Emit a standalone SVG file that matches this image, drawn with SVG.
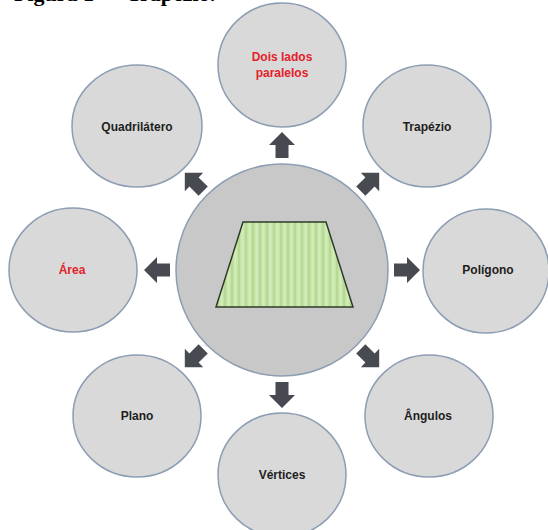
<svg xmlns="http://www.w3.org/2000/svg" width="548" height="530" viewBox="0 0 548 530">
<defs>
<style>
.node{fill:#d9d9d9;stroke:#8d9db3;stroke-width:1.5}
.hub{fill:#c8c8c8;stroke:#8d9db3;stroke-width:1.5}
.lbl{font-family:"Liberation Sans",Arial,sans-serif;font-weight:bold;font-size:12px;fill:#1e1e1e;text-anchor:middle}
.red{fill:#e3222a}
.arr{fill:#474b51}
.title{font-family:"Liberation Serif","Times New Roman",serif;font-weight:bold;font-size:22px;fill:#000}
</style>
<pattern id="stripes" width="7" height="10" patternUnits="userSpaceOnUse">
<rect width="7" height="10" fill="#c4e4a4"/>
<rect x="0" width="2" height="10" fill="#b6da96"/>
<rect x="3.5" width="2" height="10" fill="#d4ecbf"/>
</pattern>
<path id="a" d="M-13,-6.5 H0 V-13 L13,0 L0,13 V6.5 H-13 Z"/>
</defs>
<rect width="548" height="530" fill="#ffffff"/>
<text class="title" x="14" y="1">Figura 1 – <tspan x="127">Trapézio.</tspan></text>

<g id="hub">
<circle class="hub" cx="282" cy="270" r="106"/>
<polygon points="243,222 326,222 353,307 216,307" fill="url(#stripes)" stroke="#2f3a2a" stroke-width="1.5"/>
</g>

<g id="connectors" class="arr">
<use href="#a" transform="translate(282,145) rotate(-90)"/>
<use href="#a" transform="translate(370,182) rotate(-45)"/>
<use href="#a" transform="translate(407,270)"/>
<use href="#a" transform="translate(370,358) rotate(45)"/>
<use href="#a" transform="translate(282,395) rotate(90)"/>
<use href="#a" transform="translate(194,358) rotate(135)"/>
<use href="#a" transform="translate(157,270) rotate(180)"/>
<use href="#a" transform="translate(194,182) rotate(225)"/>
</g>

<g id="dois-lados">
<ellipse class="node" cx="282" cy="65" rx="64" ry="62"/>
<text class="lbl red" x="282" y="61">Dois lados</text>
<text class="lbl red" x="282" y="77">paralelos</text>
</g>
<g id="trapezio">
<ellipse class="node" cx="427" cy="126" rx="64" ry="61"/>
<text class="lbl" x="427" y="131">Trapézio</text>
</g>
<g id="poligono">
<ellipse class="node" cx="486" cy="271" rx="63" ry="62"/>
<text class="lbl" x="488" y="274">Polígono</text>
</g>
<g id="angulos">
<ellipse class="node" cx="429" cy="416" rx="64" ry="61"/>
<text class="lbl" x="428" y="420">Ângulos</text>
</g>
<g id="vertices">
<ellipse class="node" cx="282" cy="475" rx="64" ry="62"/>
<text class="lbl" x="282" y="479">Vértices</text>
</g>
<g id="plano">
<ellipse class="node" cx="137" cy="416" rx="64" ry="61"/>
<text class="lbl" x="137" y="420">Plano</text>
</g>
<g id="area">
<ellipse class="node" cx="73" cy="270" rx="64" ry="62"/>
<text class="lbl red" x="72" y="274">Área</text>
</g>
<g id="quadrilatero">
<ellipse class="node" cx="137" cy="126" rx="65" ry="61"/>
<text class="lbl" x="137" y="131">Quadrilátero</text>
</g>
</svg>
